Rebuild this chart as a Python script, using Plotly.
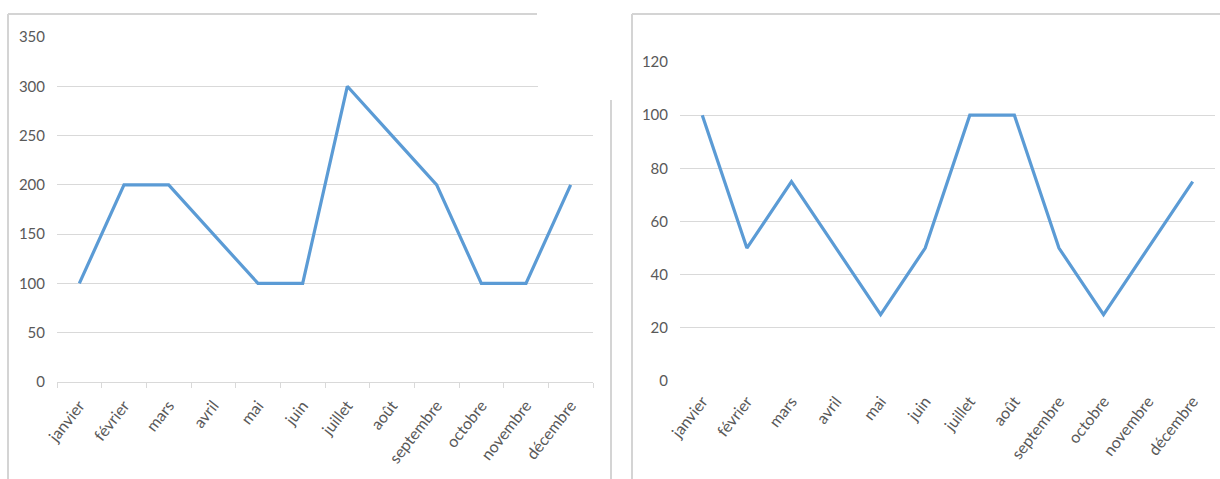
import plotly.graph_objects as go

months = ["janvier", "février", "mars", "avril", "mai", "juin", "juillet",
          "août", "septembre", "octobre", "novembre", "décembre"]
left_values = [100, 200, 200, 150, 100, 100, 300, 250, 200, 100, 100, 200]
right_values = [100, 50, 75, 50, 25, 50, 100, 100, 50, 25, 50, 75]
left_ticks = [0, 50, 100, 150, 200, 250, 300, 350]
right_ticks = [0, 20, 40, 60, 80, 100, 120]

W, H = 1220, 479
LINE = "#5B9BD5"
GRID = "#D9D9D9"
TXT = "#595959"
FONT = "Lato, Open Sans, sans-serif"


def px(x):
    return x / W


def py(y):
    return 1 - y / H


fig = go.Figure()
fig.add_trace(go.Scatter(x=months, y=left_values, mode="lines",
                         line=dict(color=LINE, width=3.2), xaxis="x", yaxis="y",
                         showlegend=False, hoverinfo="skip"))
fig.add_trace(go.Scatter(x=months, y=right_values, mode="lines",
                         line=dict(color=LINE, width=3.2), xaxis="x2", yaxis="y2",
                         showlegend=False, hoverinfo="skip"))

xcommon = dict(type="category", tickangle=-52, showgrid=False, zeroline=False,
               automargin=False, ticklabelstandoff=7,
               tickfont=dict(family=FONT, size=16, color=TXT))
ycommon = dict(showgrid=True, gridcolor=GRID, gridwidth=1, zeroline=False,
               automargin=False, showline=False, ticks="",
               tickfont=dict(family=FONT, size=15, color=TXT),
               ticklabelstandoff=11)

fig.update_layout(
    template="none",
    width=W, height=H,
    margin=dict(l=0, r=0, t=0, b=0),
    paper_bgcolor="white", plot_bgcolor="white",
    xaxis=dict(**xcommon, domain=[px(57), px(593)], anchor="y",
               showline=True, linecolor=GRID, linewidth=1,
               ticks="outside", ticklen=5, tickcolor=GRID, tickson="boundaries",
               range=[-0.5, 11.5]),
    yaxis=dict(**ycommon, domain=[py(382), py(37)], anchor="x",
               range=[0, 350], tickvals=left_ticks),
    xaxis2=dict(**xcommon, domain=[px(680), px(1215)], anchor="y2",
                showline=False, ticks="", range=[-0.5, 11.5]),
    yaxis2=dict(**ycommon, domain=[py(381), py(62)], anchor="x2",
                range=[0, 120], tickvals=right_ticks),
)

shapes = []
# white cut-outs (top-right corners of each chart image)
shapes.append(dict(type="rect", xref="paper", yref="paper", layer="above",
                   x0=px(538), x1=px(612), y0=py(100), y1=py(0),
                   fillcolor="white", line=dict(width=0)))
shapes.append(dict(type="rect", xref="paper", yref="paper", layer="above",
                   x0=px(1157), x1=px(1220), y0=py(95), y1=py(20),
                   fillcolor="white", line=dict(width=0)))
# chart borders
border = dict(color="#D4D4D4", width=2)
shapes += [
    dict(type="line", xref="paper", yref="paper", x0=px(8), x1=px(537), y0=py(14), y1=py(14), line=border),
    dict(type="line", xref="paper", yref="paper", x0=px(8), x1=px(8), y0=py(14), y1=py(479), line=border),
    dict(type="line", xref="paper", yref="paper", x0=px(611), x1=px(611), y0=py(100), y1=py(479), line=border),
    dict(type="line", xref="paper", yref="paper", x0=px(632), x1=px(1220), y0=py(14), y1=py(14), line=border),
    dict(type="line", xref="paper", yref="paper", x0=px(632), x1=px(632), y0=py(14), y1=py(479), line=border),
]
fig.update_layout(shapes=shapes)

fig.write_html(
    "out.html",
    config={"displayModeBar": False},
    post_script="document.body.style.margin='0';document.body.style.overflow='hidden';",
)
